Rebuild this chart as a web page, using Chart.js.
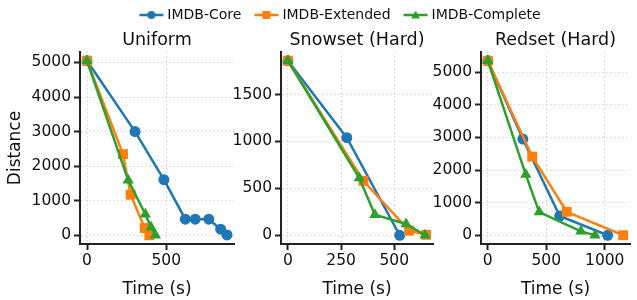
<!DOCTYPE html>
<html lang="en">
<head>
<meta charset="UTF-8" />
<title>Distance over time</title>
<script src="https://cdn.jsdelivr.net/npm/chart.js"></script>
<style>
  body { margin: 0; background: #fff; }
  #wrap { position: relative; width: 637px; height: 300px; overflow: hidden; }
  #wrap canvas { position: absolute; left: 0; top: 0; }
  #wrap #leg { top: -8px; }
</style>
</head>
<body>
<div id="wrap">
  <canvas id="c1" width="637" height="300"></canvas>
  <canvas id="c2" width="637" height="300"></canvas>
  <canvas id="c3" width="637" height="300"></canvas>
  <canvas id="leg" width="637" height="80"></canvas>
</div>
<script>
// series names and colours
const seriesNames = ['IMDB-Core', 'IMDB-Extended', 'IMDB-Complete'];
const colors = ['#1f77b4', '#ff7f0e', '#2ca02c'];
const markers = ['circle', 'rect', 'triangle'];

// Uniform
const uniformCoreT = [0, 303, 485, 620, 683, 768, 843, 883];
const uniformCoreD = [5050, 3000, 1610, 465, 465, 465, 175, 10];
const uniformExtT = [0, 227, 275, 364, 393];
const uniformExtD = [5050, 2350, 1175, 210, 0];
const uniformCompT = [0, 260, 368, 404, 432];
const uniformCompD = [5050, 1590, 610, 230, 0];

// Snowset (Hard)
const snowCoreT = [0, 277, 526];
const snowCoreD = [1860, 1040, 0];
const snowExtT = [0, 355, 570, 650];
const snowExtD = [1860, 580, 50, 5];
const snowCompT = [0, 336, 409, 556, 645];
const snowCompD = [1860, 610, 220, 120, 0];

// Redset (Hard)
const redCoreT = [0, 300, 615, 1025];
const redCoreD = [5350, 2950, 590, 0];
const redExtT = [0, 380, 675, 1158];
const redExtD = [5350, 2410, 720, 0];
const redCompT = [0, 325, 440, 796, 917];
const redCompD = [5350, 1860, 710, 120, 0];

// tick labels
const uniformXTicks = [0, 500];
const uniformYTicks = [0, 1000, 2000, 3000, 4000, 5000];
const snowXTicks = [0, 250, 500];
const snowYTicks = [0, 500, 1000, 1500];
const redXTicks = [0, 500, 1000];
const redYTicks = [0, 1000, 2000, 3000, 4000, 5000];

Chart.defaults.font.family = "'DejaVu Sans', sans-serif";
Chart.defaults.color = '#111';

const pointSizes = { circle: 5.5, rect: 7, triangle: 6.5 };

function margins(vals) {
    const lo = Math.min(...vals), hi = Math.max(...vals);
    const m = (hi - lo) * 0.05;
    return [lo - m, hi + m];
}

function makePanel(id, title, times, dists, xTicks, yTicks, padLeft, padRight, yWidth, yTitle) {
    const datasets = times.map((t, i) => ({
        label: seriesNames[i],
        data: t.map((x, j) => ({ x: x, y: dists[i][j] })),
        borderColor: colors[i],
        backgroundColor: colors[i],
        borderWidth: 2.5,
        pointStyle: markers[i],
        pointRadius: pointSizes[markers[i]],
        pointBorderWidth: 0,
        tension: 0,
        order: 2 - i
    }));
    const xr = margins(times.flat());
    const yr = margins(dists.flat());
    const gridOpts = {
        color: '#d4d4d4', lineWidth: 1,
        tickLength: 6, tickWidth: 2, tickColor: '#222', tickBorderDash: []
    };
    const borderOpts = { color: '#222', width: 2, dash: [1.5, 2.5] };
    const plain = v => String(v);
    return new Chart(document.getElementById(id), {
        type: 'line',
        data: { datasets: datasets },
        options: {
            responsive: false,
            animation: false,
            events: [],
            layout: { padding: { left: padLeft, right: padRight, top: 30, bottom: 0 } },
            scales: {
                x: {
                    type: 'linear', min: xr[0], max: xr[1],
                    afterBuildTicks: s => { s.ticks = xTicks.map(v => ({ value: v })); },
                    afterFit: s => { s.height = 56; },
                    grid: gridOpts, border: borderOpts,
                    ticks: { font: { size: 15.5 }, color: '#111', padding: 2, maxRotation: 0, autoSkip: false, callback: plain },
                    title: { display: true, text: 'Time (s)', font: { size: 17 }, color: '#111', padding: { top: 0, bottom: 0 } }
                },
                y: {
                    type: 'linear', min: yr[0], max: yr[1],
                    afterBuildTicks: s => { s.ticks = yTicks.map(v => ({ value: v })); },
                    afterFit: s => { s.width = yWidth; },
                    grid: gridOpts, border: borderOpts,
                    ticks: { font: { size: 15.5 }, color: '#111', padding: 3, autoSkip: false, callback: plain },
                    title: { display: !!yTitle, text: yTitle || '', font: { size: 17 }, color: '#111', padding: { top: 5, bottom: 0 } }
                }
            },
            plugins: {
                legend: { display: false },
                tooltip: { enabled: false },
                title: {
                    display: true, text: title, fullSize: false, color: '#111',
                    font: { size: 17.5, weight: 'normal' }, padding: { top: 0, bottom: 1 }
                }
            }
        }
    });
}

makePanel('c1', 'Uniform',
    [uniformCoreT, uniformExtT, uniformCompT], [uniformCoreD, uniformExtD, uniformCompD],
    uniformXTicks, uniformYTicks, 0, 403, 80, 'Distance');
makePanel('c2', 'Snowset (Hard)',
    [snowCoreT, snowExtT, snowCompT], [snowCoreD, snowExtD, snowCompD],
    snowXTicks, snowYTicks, 221, 204, 60, null);
makePanel('c3', 'Redset (Hard)',
    [redCoreT, redExtT, redCompT], [redCoreD, redExtD, redCompD],
    redXTicks, redYTicks, 421, 3, 60, null);

// legend icons: short line with the marker in the middle
function legendIcon(color, marker) {
    const c = document.createElement('canvas');
    c.width = 26; c.height = 12;
    const g = c.getContext('2d');
    g.strokeStyle = color; g.fillStyle = color; g.lineWidth = 2.5;
    g.beginPath(); g.moveTo(1, 6); g.lineTo(25, 6); g.stroke();
    g.beginPath();
    if (marker === 'circle') g.arc(13, 6, 4, 0, Math.PI * 2);
    else if (marker === 'rect') g.rect(9, 2, 8, 8);
    else { g.moveTo(13, 1.5); g.lineTo(17.5, 9.5); g.lineTo(8.5, 9.5); g.closePath(); }
    g.fill();
    return c;
}
const legendIcons = colors.map((c, i) => legendIcon(c, markers[i]));

new Chart(document.getElementById('leg'), {
    type: 'line',
    data: {
        datasets: seriesNames.map((n, i) => ({ label: n, data: [], borderColor: colors[i], backgroundColor: colors[i] }))
    },
    options: {
        responsive: false,
        animation: false,
        events: [],
        layout: { padding: { left: 46, right: 0, top: 0, bottom: 0 } },
        scales: { x: { display: false }, y: { display: false } },
        plugins: {
            tooltip: { enabled: false },
            legend: {
                display: true, position: 'top',
                labels: {
                    usePointStyle: true, pointStyleWidth: 18, padding: 16,
                    font: { size: 14 }, color: '#111',
                    generateLabels: chart => chart.data.datasets.map((ds, i) => ({
                        text: ds.label, pointStyle: legendIcons[i],
                        fillStyle: ds.borderColor, strokeStyle: ds.borderColor,
                        lineWidth: 0, hidden: false, datasetIndex: i, fontColor: '#111'
                    }))
                }
            }
        }
    }
});
</script>
</body>
</html>
